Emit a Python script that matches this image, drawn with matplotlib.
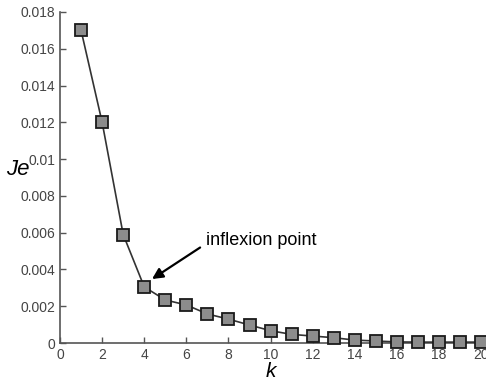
import matplotlib.pyplot as plt

plt.rcParams['font.family'] = ['Liberation Sans', 'DejaVu Sans']

k = list(range(1, 21))
je = [0.0170, 0.0120, 0.0059, 0.00305, 0.00234, 0.00207, 0.00158, 0.0013,
      0.00098, 0.00067, 0.00047, 0.00038, 0.00029, 0.00016, 0.00011,
      0.00006, 0.00005, 0.00005, 0.00005, 0.00005]
xticks = [0, 2, 4, 6, 8, 10, 12, 14, 16, 18, 20]
yticks = [0, 0.002, 0.004, 0.006, 0.008, 0.01, 0.012, 0.014, 0.016, 0.018]
yticklabels = ['0', '0.002', '0.004', '0.006', '0.008', '0.01', '0.012',
               '0.014', '0.016', '0.018']

fig = plt.figure(figsize=(4.86, 3.85), dpi=100)
ax = fig.add_axes([0.1235, 0.109, 0.8665, 0.86])

ax.plot(k, je, color='#333333', lw=1.2, marker='s', markersize=8,
        markerfacecolor='#8c8c8c', markeredgecolor='#1a1a1a', markeredgewidth=1.3,
        clip_on=False, zorder=3)

ax.set_xlim(0, 20)
ax.set_ylim(0, 0.018)
ax.set_xticks(xticks)
ax.set_yticks(yticks)
ax.set_yticklabels(yticklabels)

for s in ['top', 'right']:
    ax.spines[s].set_visible(False)
for s in ['left', 'bottom']:
    ax.spines[s].set_color('#555555')
    ax.spines[s].set_linewidth(1.2)
ax.tick_params(direction='in', length=4, width=1, colors='#555555',
               labelcolor='#444444', labelsize=10)

ax.set_xlabel('k', fontstyle='italic', fontsize=15, labelpad=0)
ax.set_ylabel('Je', fontstyle='italic', fontsize=16, rotation=0,
              va='center', ha='center')
ax.yaxis.set_label_coords(-0.1, 0.525)

ax.annotate('inflexion point', xy=(4.37, 0.00348), xytext=(6.95, 0.0056),
            fontsize=13, va='center', ha='left',
            arrowprops=dict(arrowstyle='-|>', color='black', lw=1.6,
                            mutation_scale=16, shrinkA=3, shrinkB=0,
                            relpos=(0, 0.3)))

fig.savefig('out.png', dpi=100)
